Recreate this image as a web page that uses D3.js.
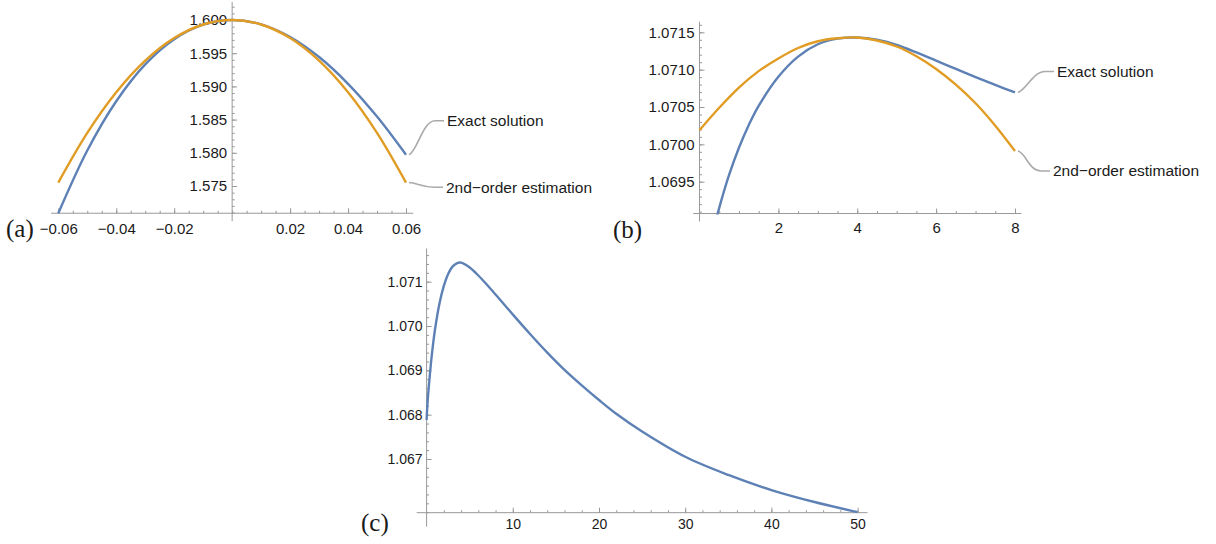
<!DOCTYPE html>
<html>
<head>
<meta charset="utf-8">
<script src="https://cdn.jsdelivr.net/npm/d3@7"></script>
<style>
  body { margin: 0; background: #fff; }
  svg text { font-family: "Liberation Sans", Arial, sans-serif; fill: #1a1a1a; }
  svg text.tag { font-family: "Liberation Serif", "DejaVu Serif", serif; }
</style>
</head>
<body>
<svg id="chart" width="1216" height="544"></svg>
<script>
// ---- panel (a): expansion around x = 0
const aX        = [-0.06, -0.05, -0.04, -0.03, -0.02, -0.01, 0, 0.01, 0.02, 0.03, 0.04, 0.05, 0.06]
const aExact    = [1.57090, 1.58035, 1.58777, 1.59332, 1.59711, 1.59930, 1.60000, 1.59934, 1.59744, 1.59442, 1.59039, 1.58545, 1.57970]
const aEstimate = [1.57552, 1.58300, 1.58912, 1.59388, 1.59728, 1.59932, 1.60000, 1.59932, 1.59728, 1.59388, 1.58912, 1.58300, 1.57552]
const aXTicks = [-0.06, -0.04, -0.02, 0.02, 0.04, 0.06]
const aYTicks = [1.575, 1.580, 1.585, 1.590, 1.595, 1.600]

// ---- panel (b): expansion around the maximum
const bExactX   = [0.4, 0.5, 0.75, 1, 1.25, 1.5, 2, 2.5, 3, 3.5, 4, 4.5, 5, 5.5, 6, 6.5, 7, 7.5, 8]
const bExact    = [1.06895, 1.06915, 1.06959, 1.069955, 1.07026, 1.070515, 1.070905, 1.071175, 1.07134, 1.071415, 1.07143,
                   1.07140, 1.07133, 1.07123, 1.07112, 1.07101, 1.07090, 1.070795, 1.070695]
const bEstX     = [0, 0.5, 1, 1.5, 2, 2.5, 3, 3.5, 4, 4.5, 5, 5.5, 6, 6.5, 7, 7.5, 8]
const bEstimate = [1.07019, 1.07049, 1.07076, 1.07098, 1.07115, 1.07129, 1.07138, 1.07142, 1.07143,
                   1.07139, 1.07131, 1.07118, 1.07101, 1.07080, 1.07055, 1.07025, 1.06991]
const bXTicks = [2, 4, 6, 8]
const bYTicks = [1.0695, 1.0700, 1.0705, 1.0710, 1.0715]

// ---- panel (c): exact solution over a long range
const cX     = [0, 0.1, 0.25, 0.5, 0.75, 1, 1.5, 2, 2.5, 3, 3.5, 4, 5, 6, 7, 8, 9, 10, 12, 14, 16, 18, 20, 22, 25, 30, 35, 40, 45, 50]
const cExact = [1.06788, 1.06825, 1.06862, 1.06915, 1.06959, 1.069955, 1.070515, 1.070905, 1.071175, 1.07134, 1.071415, 1.07143,
                1.07132, 1.07114, 1.07093, 1.07071, 1.070485, 1.07026, 1.06982, 1.06940, 1.06901, 1.06866, 1.06833, 1.06802,
                1.06762, 1.06705, 1.06664, 1.06630, 1.06603, 1.06580]
const cXTicks = [10, 20, 30, 40, 50]
const cYTicks = [1.067, 1.068, 1.069, 1.070, 1.071]

const BLUE = '#5e81b5', ORANGE = '#e19c24', AXIS = '#999', LEADER = '#aaa'
const svg = d3.select('#chart')

function panel(p) {
  const g = svg.append('g')
  const x = d3.scaleLinear().domain(p.xd).range(p.xr)
  const y = d3.scaleLinear().domain(p.yd).range(p.yr)
  const yb = y(p.yExt[0])   // x axis sits at the bottom of the plot range

  // ticks point inward, like Mathematica
  g.append('g').attr('transform', `translate(0,${yb})`)
    .call(d3.axisBottom(x).tickValues(p.xMinor).tickSize(-2.5).tickFormat(''))
  g.append('g').attr('transform', `translate(0,${yb})`)
    .call(d3.axisBottom(x).tickValues(p.xTicks).tickSize(-5).tickPadding(p.padX).tickFormat(p.xFmt))
  g.append('g').attr('transform', `translate(${x(0)},0)`)
    .call(d3.axisLeft(y).tickValues(p.yMinor).tickSize(-2.5).tickFormat(''))
  g.append('g').attr('transform', `translate(${x(0)},0)`)
    .call(d3.axisLeft(y).tickValues(p.yTicks).tickSize(-5).tickPadding(p.padY).tickFormat(p.yFmt))

  g.selectAll('.domain').remove()
  g.selectAll('.tick line').attr('stroke', AXIS)
  g.selectAll('.tick text').style('font-size', p.fs + 'px')

  g.append('line')
    .attr('x1', x(p.xExt[0])).attr('x2', x(p.xExt[1]))
    .attr('y1', yb).attr('y2', yb)
    .attr('stroke', AXIS)
  g.append('line')
    .attr('x1', x(0)).attr('x2', x(0))
    .attr('y1', y(p.yExt[1])).attr('y2', yb + p.below)
    .attr('stroke', AXIS)

  const clipId = 'clip' + p.tag
  g.append('clipPath').attr('id', clipId)
    .append('rect')
      .attr('x', x(p.xExt[0])).attr('y', y(p.yExt[1]))
      .attr('width', x(p.xExt[1]) - x(p.xExt[0]))
      .attr('height', yb - y(p.yExt[1]) + 1)

  const line = d3.line()
    .x(d => x(d[0]))
    .y(d => y(d[1]))
    .curve(d3.curveCatmullRom.alpha(0.5))

  p.series.forEach(s => {
    g.append('path')
      .attr('clip-path', `url(#${clipId})`)
      .attr('fill', 'none')
      .attr('stroke', s.color)
      .attr('stroke-width', 2.4)
      .attr('d', line(d3.zip(s.xs, s.ys)))

    if (!s.label) return
    const sx = x(s.xs[s.xs.length - 1]) + 3
    const sy = y(s.ys[s.ys.length - 1])
    const tx = s.label.x, ty = s.label.y
    const mx = tx - 12
    g.append('path')
      .attr('fill', 'none')
      .attr('stroke', LEADER)
      .attr('stroke-width', 1.6)
      .attr('d', `M${sx},${sy} C${sx + 8},${sy + (ty - sy) * 0.1} ${mx - 12},${ty} ${mx},${ty} L${tx - 3},${ty}`)
    g.append('text')
      .attr('x', tx).attr('y', ty).attr('dy', '0.35em')
      .style('font-size', '15.5px')
      .text(s.label.text)
  })

  g.append('text')
    .attr('class', 'tag')
    .attr('x', p.tagPos[0]).attr('y', p.tagPos[1])
    .style('font-size', '25px')
    .text(`(${p.tag})`)
}

panel({
  tag: 'a', tagPos: [6, 237],
  xd: [-0.06, 0.06], xr: [58.3, 406],
  yd: [1.575, 1.600], yr: [186, 20],
  xExt: [-0.0625, 0.0625], yExt: [1.5709, 1.6027], below: 8,
  xTicks: aXTicks, yTicks: aYTicks,
  xMinor: d3.range(-0.06, 0.0601, 0.005), yMinor: d3.range(1.571, 1.6025, 0.001),
  xFmt: d3.format('.2f'), yFmt: d3.format('.3f'),
  padX: 10, padY: 5, fs: 15,
  series: [
    { xs: aX, ys: aExact, color: BLUE, label: { text: 'Exact solution', x: 447, y: 120.7 } },
    { xs: aX, ys: aEstimate, color: ORANGE, label: { text: '2nd\u2212order estimation', x: 446, y: 187.3 } }
  ]
})

panel({
  tag: 'b', tagPos: [613, 238],
  xd: [0, 8], xr: [699.5, 1015],
  yd: [1.0695, 1.0715], yr: [181.7, 32.3],
  xExt: [-0.16, 8.16], yExt: [1.069074, 1.07164], below: 8,
  xTicks: bXTicks, yTicks: bYTicks,
  xMinor: d3.range(0.5, 8.01, 0.5), yMinor: d3.range(1.0691, 1.07165, 0.0001),
  xFmt: d3.format('d'), yFmt: d3.format('.4f'),
  padX: 9, padY: 5, fs: 15,
  series: [
    { xs: bExactX, ys: bExact, color: BLUE, label: { text: 'Exact solution', x: 1057, y: 71.5 } },
    { xs: bEstX, ys: bEstimate, color: ORANGE, label: { text: '2nd\u2212order estimation', x: 1053, y: 171 } }
  ]
})

panel({
  tag: 'c', tagPos: [361, 531],
  xd: [0, 50], xr: [426.6, 857.6],
  yd: [1.067, 1.071], yr: [459, 281.7],
  xExt: [-1.15, 51.15], yExt: [1.065789, 1.07175], below: 14,
  xTicks: cXTicks, yTicks: cYTicks,
  xMinor: d3.range(2, 50.1, 2), yMinor: d3.range(1.0658, 1.0717, 0.0002),
  xFmt: d3.format('d'), yFmt: d3.format('.3f'),
  padX: 6, padY: 4, fs: 14,
  series: [
    { xs: cX, ys: cExact, color: BLUE }
  ]
})
</script>
</body>
</html>
